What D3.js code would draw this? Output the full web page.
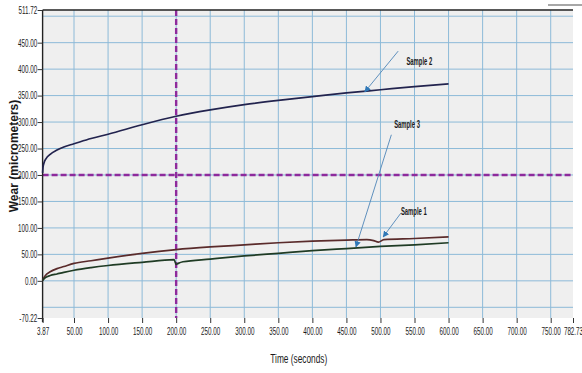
<!DOCTYPE html>
<html>
<head>
<meta charset="utf-8">
<script src="https://cdn.jsdelivr.net/npm/d3@7"></script>
<style>
  html, body { margin: 0; padding: 0; background: #ffffff; }
  svg { display: block; }
  text { font-family: "Liberation Sans", Arial, sans-serif; fill: #1a1a1a; }
</style>
</head>
<body>
<svg id="chart" width="582" height="373"></svg>
<script>
// Wear test readings: time in seconds, wear in micrometers
const time1 = [3.87, 8, 15, 25, 35, 50, 75, 100, 150, 200, 250, 300, 350, 400, 450, 480, 490, 497, 505, 550, 600];
const sample1 = [1, 10, 17, 23, 27, 33, 38, 43, 52, 59, 64, 68, 72, 75, 77, 78, 76, 73, 78, 80, 83];

const time2 = [3.87, 4.5, 6, 9, 15, 25, 35, 50, 75, 100, 150, 200, 250, 300, 350, 400, 450, 500, 550, 600];
const sample2 = [204, 215, 223, 231, 239, 247, 253, 259, 269, 277, 295, 311, 323, 333, 341, 348, 355, 361, 367, 372];

const time3 = [3.87, 8, 15, 25, 35, 50, 75, 100, 150, 197, 200, 203, 210, 250, 300, 350, 400, 450, 500, 550, 600];
const sample3 = [1, 6, 10, 13, 16, 20, 25, 29, 35, 40, 31, 33, 36, 41, 47, 52, 57, 61, 65, 68, 72];

// Axis extents and tick labels
const xDomain = [3.87, 782.73];
const yDomain = [-70.22, 511.72];
const xTickValues = [3.87, 50, 100, 150, 200, 250, 300, 350, 400, 450, 500, 550, 600, 650, 700, 750, 782.73];
const yTickValues = [-70.22, 0, 50, 100, 150, 200, 250, 300, 350, 400, 450, 511.72];
const xGridValues = [50, 100, 150, 200, 250, 300, 350, 400, 450, 500, 550, 600, 650, 700, 750];
const yGridValues = [-50, 0, 50, 100, 150, 200, 250, 300, 350, 400, 450, 500];

// Cursor markers (dashed)
const cursorTime = 200;
const cursorWear = 200;

// Callout labels: text position, leader start, arrow tip (time, wear)
const calloutNames = ["Sample 2", "Sample 3", "Sample 1"];
const calloutText = [[557, 408], [539, 289], [549, 124]];
const calloutStart = [[526, 434], [516, 276], [530, 128]];
const calloutTip = [[477, 357], [464, 64], [504, 83]];

const svg = d3.select("#chart");
const W = 582, H = 373;
const margin = { top: 10, right: 9, bottom: 55, left: 42.6 };
const iw = W - margin.left - margin.right;
const ih = H - margin.top - margin.bottom;

const x = d3.scaleLinear().domain(xDomain).range([margin.left, margin.left + iw]);
const y = d3.scaleLinear().domain(yDomain).range([margin.top + ih, margin.top]);

const squeeze = 0.6;

// plot background
svg.append("rect")
  .attr("x", margin.left).attr("y", margin.top)
  .attr("width", iw).attr("height", ih)
  .attr("fill", "#efefef");

// grid
const grid = svg.append("g").attr("stroke", "#8dbad8").attr("stroke-width", 1);
grid.selectAll("line.v").data(xGridValues).join("line")
  .attr("class", "v")
  .attr("x1", d => x(d)).attr("x2", d => x(d))
  .attr("y1", margin.top).attr("y2", margin.top + ih);
grid.selectAll("line.h").data(yGridValues).join("line")
  .attr("class", "h")
  .attr("x1", margin.left).attr("x2", margin.left + iw)
  .attr("y1", d => y(d)).attr("y2", d => y(d));

// dashed cursors
const cursorStyle = sel => sel.attr("stroke", "#8e2a9c").attr("stroke-width", 2.4).attr("stroke-dasharray", "6,3");
svg.append("line")
  .attr("x1", x(cursorTime)).attr("x2", x(cursorTime))
  .attr("y1", margin.top).attr("y2", margin.top + ih)
  .call(cursorStyle);
svg.append("line")
  .attr("x1", margin.left).attr("x2", margin.left + iw)
  .attr("y1", y(cursorWear)).attr("y2", y(cursorWear))
  .call(cursorStyle);

// frame: top and left edges
svg.append("line")
  .attr("x1", margin.left).attr("x2", margin.left + iw)
  .attr("y1", margin.top).attr("y2", margin.top)
  .attr("stroke", "#222").attr("stroke-width", 1.4);
svg.append("line")
  .attr("x1", margin.left).attr("x2", margin.left)
  .attr("y1", margin.top).attr("y2", margin.top + ih + 4)
  .attr("stroke", "#222").attr("stroke-width", 1.4);

// series
const line = d3.line().curve(d3.curveMonotoneX).x(d => x(d[0])).y(d => y(d[1]));
const series = [
  { t: time2, v: sample2, color: "#22234e" },
  { t: time1, v: sample1, color: "#5a2b2b" },
  { t: time3, v: sample3, color: "#1f3b24" }
];
series.forEach(s => {
  svg.append("path")
    .datum(s.t.map((t, i) => [t, s.v[i]]))
    .attr("fill", "none")
    .attr("stroke", s.color)
    .attr("stroke-width", 1.7)
    .attr("d", line);
});

// axes
const xAxis = d3.axisBottom(x).tickValues(xTickValues)
  .tickFormat(d => d.toFixed(2)).tickSize(5).tickPadding(5);
const gx = svg.append("g")
  .attr("transform", `translate(0,${margin.top + ih})`)
  .call(xAxis);
gx.select(".domain").remove();
gx.selectAll(".tick line").attr("stroke", "#333");
gx.selectAll(".tick text")
  .attr("font-size", 10.5)
  .attr("font-family", "Liberation Sans, Arial, sans-serif")
  .attr("fill", "#1a1a1a")
  .attr("transform", `scale(${squeeze},1)`);

const yAxis = d3.axisLeft(y).tickValues(yTickValues)
  .tickFormat(d => d.toFixed(2)).tickSize(5).tickPadding(4);
const gy = svg.append("g")
  .attr("transform", `translate(${margin.left},0)`)
  .call(yAxis);
gy.select(".domain").remove();
gy.selectAll(".tick line").attr("stroke", "#333");
gy.selectAll(".tick text")
  .attr("font-size", 10.5)
  .attr("font-family", "Liberation Sans, Arial, sans-serif")
  .attr("fill", "#1a1a1a")
  .attr("transform", `scale(${squeeze},1)`);

// axis titles
svg.append("text")
  .attr("transform", `translate(${margin.left + iw * 0.483},${H - 10}) scale(0.64,1)`)
  .attr("text-anchor", "middle")
  .attr("font-size", 13)
  .text("Time (seconds)");

svg.append("text")
  .attr("transform", `translate(18,${156}) rotate(-90)`)
  .attr("text-anchor", "middle")
  .attr("font-size", 12)
  .attr("font-weight", "bold")
  .text("Wear (micrometers)");

// callouts
const defs = svg.append("defs");
defs.append("marker")
  .attr("id", "tip")
  .attr("viewBox", "0 0 10 10")
  .attr("refX", 9).attr("refY", 5)
  .attr("markerWidth", 7).attr("markerHeight", 7)
  .attr("orient", "auto")
  .append("path")
  .attr("d", "M0,0 L10,5 L0,10 Z")
  .attr("fill", "#2f78b7");

calloutNames.forEach((name, i) => {
  svg.append("line")
    .attr("x1", x(calloutStart[i][0])).attr("y1", y(calloutStart[i][1]))
    .attr("x2", x(calloutTip[i][0])).attr("y2", y(calloutTip[i][1]))
    .attr("stroke", "#4f86b8").attr("stroke-width", 0.9)
    .attr("marker-end", "url(#tip)");
  svg.append("text")
    .attr("transform", `translate(${x(calloutText[i][0])},${y(calloutText[i][1])}) scale(0.56,1)`)
    .attr("text-anchor", "middle")
    .attr("font-size", 10.5)
    .attr("font-weight", "bold")
    .attr("fill", "#222")
    .text(name);
});

// small stroke at top-right corner
svg.append("line")
  .attr("x1", 548).attr("x2", 582).attr("y1", 5).attr("y2", 5)
  .attr("stroke", "#8a8a8a").attr("stroke-width", 1.5);
</script>
</body>
</html>
